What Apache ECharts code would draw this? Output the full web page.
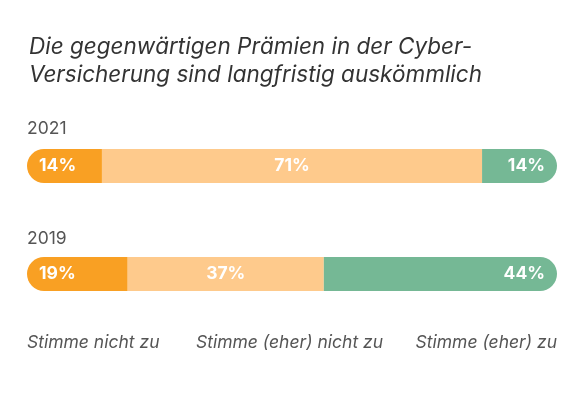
<!DOCTYPE html>
<html><head><meta charset="utf-8">
<script src="https://cdn.jsdelivr.net/npm/echarts@6/dist/echarts.min.js"></script>
<style>html,body{margin:0;padding:0;background:#fff}#c{width:583px;height:394px}</style>
</head><body><div id="c"></div>
<script>
var years = ['2021', '2019'];
var seriesNames = ['Stimme nicht zu', 'Stimme (eher) nicht zu', 'Stimme (eher) zu'];
var values2021 = [14, 71, 14];
var values2019 = [19, 37, 44];
var colors = ['#F9A023', '#FECA8C', '#75B895'];
var titleText = 'Die gegenwärtigen Prämien in der Cyber-\nVersicherung sind langfristig auskömmlich';

var rows = [values2021, values2019];
var chart = echarts.init(document.getElementById('c'));
var grids = [
  {left: 27, width: 530, top: 149, height: 34},
  {left: 27, width: 530, top: 257, height: 34}
];
var xAxes = [], yAxes = [], series = [];
rows.forEach(function (vals, gi) {
  var total = vals.reduce(function (a, b) { return a + b; }, 0);
  xAxes.push({gridIndex: gi, type: 'value', min: 0, max: total, show: false});
  yAxes.push({gridIndex: gi, type: 'category', data: [years[gi]], show: false});
  vals.forEach(function (v, si) {
    var r = si === 0 ? [17, 0, 0, 17] : (si === vals.length - 1 ? [0, 17, 17, 0] : 0);
    var pos = si === 0 ? 'insideLeft' : (si === vals.length - 1 ? 'insideRight' : 'inside');
    series.push({
      type: 'bar', name: seriesNames[si], stack: 's' + gi,
      xAxisIndex: gi, yAxisIndex: gi, barWidth: 34,
      data: [v],
      itemStyle: {color: colors[si], borderRadius: r},
      label: {show: true, position: pos, distance: 12, formatter: '{c}%', color: '#fff',
        fontFamily: 'Inter', fontWeight: 'bold', fontSize: 17.5},
      silent: true
    });
  });
});
var graphics = [
  {type: 'text', left: 27, top: 120, style: {text: years[0], font: '17.5px Inter', fill: '#555'}},
  {type: 'text', left: 27, top: 230, style: {text: years[1], font: '17.5px Inter', fill: '#555'}},
  {type: 'text', left: 27, top: 334, style: {text: seriesNames[0], font: 'italic 17.5px Inter', fill: '#555'}},
  {type: 'text', left: 196, top: 334, style: {text: seriesNames[1], font: 'italic 17.5px Inter', fill: '#555'}},
  {type: 'text', right: 26, top: 334, style: {text: seriesNames[2], font: 'italic 17.5px Inter', fill: '#555'}}
];
chart.setOption({
  animation: false,
  title: {text: titleText, left: 24, top: 28,
    textStyle: {fontFamily: 'Inter', fontStyle: 'italic', fontWeight: 'normal', fontSize: 22.5, color: '#333', lineHeight: 28}},
  grid: grids, xAxis: xAxes, yAxis: yAxes, series: series, graphic: graphics
});
</script></body></html>
